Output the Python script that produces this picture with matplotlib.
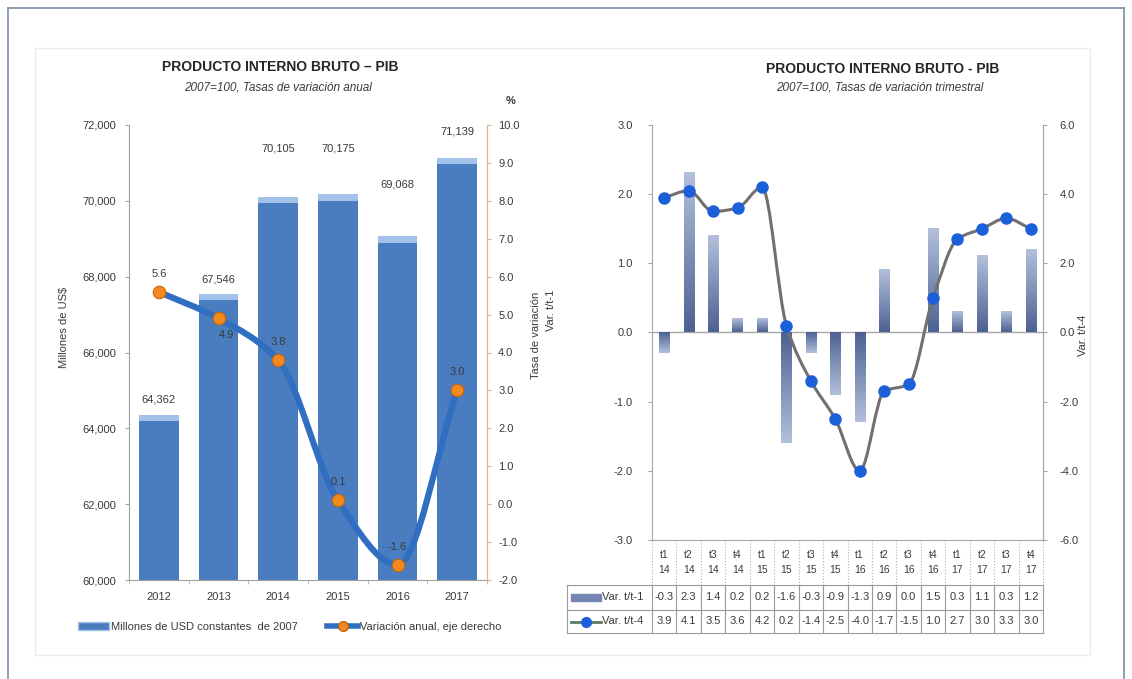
import numpy as np
import matplotlib
matplotlib.use('Agg')
import matplotlib.pyplot as plt
from matplotlib.path import Path
from matplotlib.patches import PathPatch, Patch, Rectangle
from matplotlib.lines import Line2D
from matplotlib.colors import LinearSegmentedColormap

plt.rcParams['font.family'] = ['Liberation Sans Narrow', 'Liberation Sans', 'DejaVu Sans']

# ── Data ──────────────────────────────────────────────
years = ['2012', '2013', '2014', '2015', '2016', '2017']
pib_millones = [64362, 67546, 70105, 70175, 69068, 71139]   # millones USD de 2007
var_anual = [5.6, 4.9, 3.8, 0.1, -1.6, 3.0]                 # %

quarters = ['t1\n14', 't2\n14', 't3\n14', 't4\n14',
            't1\n15', 't2\n15', 't3\n15', 't4\n15',
            't1\n16', 't2\n16', 't3\n16', 't4\n16',
            't1\n17', 't2\n17', 't3\n17', 't4\n17']
var_tt1 = [-0.3, 2.3, 1.4, 0.2, 0.2, -1.6, -0.3, -0.9,
           -1.3, 0.9, 0.0, 1.5, 0.3, 1.1, 0.3, 1.2]
var_tt4 = [3.9, 4.1, 3.5, 3.6, 4.2, 0.2, -1.4, -2.5,
           -4.0, -1.7, -1.5, 1.0, 2.7, 3.0, 3.3, 3.0]

W, H = 1132, 679
def fx(px): return px / W
def fy(py): return 1 - py / H


def smooth_path(xs, ys):
    # monotone cubic (Fritsch-Carlson tangents) drawn as Bezier segments
    xs = np.asarray(xs, float)
    ys = np.asarray(ys, float)
    h = np.diff(xs)
    d = np.diff(ys) / h
    m = np.empty_like(ys)
    m[0], m[-1] = d[0], d[-1]
    for k in range(1, len(ys) - 1):
        if d[k - 1] * d[k] <= 0:
            m[k] = 0.0
        else:
            m[k] = 2.0 / (1.0 / d[k - 1] + 1.0 / d[k])
    verts, codes = [(xs[0], ys[0])], [Path.MOVETO]
    for k in range(len(ys) - 1):
        verts += [(xs[k] + h[k] / 3, ys[k] + m[k] * h[k] / 3),
                  (xs[k + 1] - h[k] / 3, ys[k + 1] - m[k + 1] * h[k] / 3),
                  (xs[k + 1], ys[k + 1])]
        codes += [Path.CURVE4] * 3
    return Path(verts, codes)


fig = plt.figure(figsize=(W / 100, H / 100), dpi=100)
fig.patch.set_facecolor('white')

# outer frame and inner panel
frame_c = '#8796ad'
fig.add_artist(Line2D([fx(8), fx(8)], [0, fy(8)], color=frame_c, lw=1.3))
fig.add_artist(Line2D([fx(8), fx(1124)], [fy(8), fy(8)], color=frame_c, lw=1.3))
fig.add_artist(Line2D([fx(1124), fx(1124)], [0, fy(8)], color=frame_c, lw=1.3))
fig.add_artist(Rectangle((fx(35), fy(655)), fx(1090) - fx(35), (655 - 48) / H,
                         fill=False, ec='#ececec', lw=1))

txt_c = '#3a3a3a'
tick_fs = 8

# ── Left: annual GDP ─────────────────────────────────
ax1 = fig.add_axes([fx(129), fy(580), fx(487) - fx(129), (580 - 125) / H])
x = np.arange(len(years))
bw = 0.66
ax1.bar(x, pib_millones, width=bw, color='#4a7dc0', zorder=2)
ax1.bar(x, 170, bottom=np.array(pib_millones) - 170, width=bw,
        color='#a3c2ea', zorder=2)
ax1.set_xlim(-0.5, len(years) - 0.5)
ax1.set_ylim(60000, 72000)
ax1.set_yticks(range(60000, 72001, 2000))
ax1.set_yticklabels([f'{v:,}' for v in range(60000, 72001, 2000)])
ax1.set_xticks(x, years)
ax1.set_xticks(np.arange(-0.5, len(years)), minor=True)
ax1.tick_params(axis='x', which='major', length=0, pad=9, labelsize=tick_fs, labelcolor=txt_c)
ax1.tick_params(axis='x', which='minor', length=3, color='#b0b0b0')
ax1.tick_params(axis='y', length=3, color='#a0a0a0', labelsize=tick_fs, labelcolor=txt_c, pad=6)
for s in ['top', 'right']:
    ax1.spines[s].set_visible(False)
ax1.spines['left'].set_color('#a0a0a0')
ax1.spines['bottom'].set_color('#a0a0a0')

bar_label_dy = [11, 10, 35, 33, 37, 19]
for xi, v, dy in zip(x, pib_millones, bar_label_dy):
    ax1.annotate(f'{v:,}', (xi, v), xytext=(0, dy), textcoords='offset points',
                 ha='center', va='center', fontsize=tick_fs, color=txt_c, zorder=5)

ax1r = ax1.twinx()
ax1r.set_ylim(-2, 10)
ax1r.set_yticks(range(-2, 11))
ax1r.set_yticklabels([f'{v:.1f}' for v in range(-2, 11)])
ax1r.tick_params(axis='y', length=3, color='#d9b48f', labelsize=tick_fs, labelcolor=txt_c, pad=5)
for s in ['top', 'left', 'bottom']:
    ax1r.spines[s].set_visible(False)
ax1r.spines['right'].set_color('#d9b48f')

ax1r.add_patch(PathPatch(smooth_path(x, var_anual), fill=False, ec='#2f6ec0',
                         lw=4.5, capstyle='round', joinstyle='round', zorder=3))
ax1r.plot(x, var_anual, 'o', ms=9, mfc='#f28a1e', mec='#c8650c', mew=0.8, zorder=4)
below = {1}
for i, (xi, v) in enumerate(zip(x, var_anual)):
    dx, dy = (6, -12) if i in below else (0, 13)
    ax1r.annotate(f'{v:.1f}', (xi, v), xytext=(dx, dy), textcoords='offset points',
                  ha='center', va='center', fontsize=tick_fs, color=txt_c, zorder=5)

fig.text(fx(280), fy(67), 'PRODUCTO INTERNO BRUTO – PIB', ha='center', va='center',
         fontsize=10, fontweight='bold', color='#262626')
fig.text(fx(278), fy(87), '2007=100, Tasas de variación anual', ha='center', va='center',
         fontsize=8.5, style='italic', color=txt_c)
fig.text(fx(64), fy(327), 'Millones de US$', rotation=90, ha='center', va='center',
         fontsize=tick_fs, color=txt_c)
fig.text(fx(536), fy(335), 'Tasa de variación', rotation=90, ha='center', va='center',
         fontsize=tick_fs, color=txt_c)
fig.text(fx(551), fy(310), 'Var. t/t-1', rotation=90, ha='center', va='center',
         fontsize=tick_fs, color=txt_c)
fig.text(fx(511), fy(101), '%', ha='center', va='center', fontsize=tick_fs,
         fontweight='bold', color=txt_c)

ax1.legend(handles=[Patch(facecolor='#4a7dc0', edgecolor='#a3c2ea'),
                    Line2D([], [], color='#2f6ec0', lw=4, marker='o', ms=7,
                           mfc='#f28a1e', mec='#c8650c')],
           labels=['Millones de USD constantes  de 2007', 'Variación anual, eje derecho'],
           ncol=2, loc='center left', bbox_to_anchor=(fx(68), fy(627)),
           bbox_transform=fig.transFigure, frameon=False, fontsize=tick_fs,
           handlelength=2.8, handletextpad=0.2, columnspacing=2.6, labelcolor=txt_c)

# ── Right: quarterly GDP ──────────────────────────────
ax2 = fig.add_axes([fx(652), fy(540), fx(1043) - fx(652), (540 - 125) / H])
xq = np.arange(len(quarters))
qw = 0.42
bar_cmap = LinearSegmentedColormap.from_list('bars', ['#4d6192', '#b3c0dc'])
grad = np.linspace(0, 1, 64).reshape(-1, 1)
for xi, v in zip(xq, var_tt1):
    if v == 0:
        continue
    ax2.imshow(grad, extent=(xi - qw / 2, xi + qw / 2, 0, v), cmap=bar_cmap,
               aspect='auto', origin='lower', zorder=2)
ax2.axhline(0, color='#a6a6a6', lw=1, zorder=1)
ax2.set_yticks(np.arange(-3, 3.1, 1))
ax2.set_yticklabels([f'{v:.1f}' for v in np.arange(-3, 3.1, 1)])
ax2.set_xticks([])
ax2.tick_params(axis='y', length=3, color='#a6a6a6', labelsize=tick_fs, labelcolor=txt_c, pad=11)
ax2.spines['top'].set_visible(False)
for s in ['left', 'right', 'bottom']:
    ax2.spines[s].set_color('#a6a6a6')

ax2r = ax2.twinx()
ax2r.set_ylim(-6, 6)
ax2r.set_yticks(range(-6, 7, 2))
ax2r.set_yticklabels([f'{v:.1f}' for v in range(-6, 7, 2)])
ax2r.tick_params(axis='y', length=3, color='#a6a6a6', labelsize=tick_fs, labelcolor=txt_c, pad=9)
for s in ['top', 'left', 'bottom']:
    ax2r.spines[s].set_visible(False)
ax2r.spines['right'].set_color('#a6a6a6')
ax2r.add_patch(PathPatch(smooth_path(xq, var_tt4), fill=False, ec='#707070',
                         lw=2.2, capstyle='round', joinstyle='round', zorder=3))
ax2r.plot(xq, var_tt4, 'o', ms=8, mfc='#1b5fd9', mec='#1b5fd9', zorder=4)

fig.text(fx(883), fy(69), 'PRODUCTO INTERNO BRUTO - PIB', ha='center', va='center',
         fontsize=10, fontweight='bold', color='#262626')
fig.text(fx(880), fy(87), '2007=100, Tasas de variación trimestral', ha='center', va='center',
         fontsize=8.5, style='italic', color=txt_c)
fig.text(fx(1083), fy(335), 'Var. t/t-4', rotation=90, ha='center', va='center',
         fontsize=tick_fs, color=txt_c)

# data table under the quarterly chart
trans = ax2.get_xaxis_transform()
n = len(quarters)
xl = -0.5 - 85 / 24.44
r0, r1, r2, r3 = 0.0, -45 / 415, -70 / 415, -93 / 415
grid_c = '#9a9a9a'
for yy in (r1, r2, r3):
    ax2.plot([xl, n - 0.5], [yy, yy], color=grid_c, lw=0.8, transform=trans,
             clip_on=False, scalex=False, scaley=False)
for xb in np.arange(-0.5, n):
    ax2.plot([xb, xb], [r1, r3], color=grid_c, lw=0.8, transform=trans,
             clip_on=False, scalex=False, scaley=False)
    ax2.plot([xb, xb], [r0, r1], color='#b0b0b0', lw=0.8, ls=':', transform=trans,
             clip_on=False, scalex=False, scaley=False)
ax2.plot([xl, xl], [r1, r3], color=grid_c, lw=0.8, transform=trans,
         clip_on=False, scalex=False, scaley=False)

for xi, q, a, b in zip(xq, quarters, var_tt1, var_tt4):
    ax2.text(xi, (r0 + r1) / 2, q, transform=trans, ha='center', va='center',
             fontsize=7.5, color=txt_c, linespacing=1.6, clip_on=False)
    ax2.text(xi, (r1 + r2) / 2, f'{a:.1f}', transform=trans, ha='center', va='center',
             fontsize=tick_fs, color=txt_c, clip_on=False)
    ax2.text(xi, (r2 + r3) / 2, f'{b:.1f}', transform=trans, ha='center', va='center',
             fontsize=tick_fs, color=txt_c, clip_on=False)

# legend keys inside the table
ax2.add_patch(Rectangle((xl + 0.15, (r1 + r2) / 2 - 0.008), 1.25, 0.016, transform=trans,
                        color='#7385b0', clip_on=False))
ax2.text(xl + 1.45, (r1 + r2) / 2, 'Var. t/t-1', transform=trans, ha='left', va='center',
         fontsize=tick_fs, color=txt_c, clip_on=False)
ax2.plot([xl + 0.15, xl + 1.4], [(r2 + r3) / 2] * 2, color='#5f7a64', lw=2,
         transform=trans, clip_on=False, scalex=False, scaley=False)
ax2.plot([xl + 0.78], [(r2 + r3) / 2], 'o', ms=7, color='#1b5fd9',
         transform=trans, clip_on=False, scalex=False, scaley=False)
ax2.text(xl + 1.45, (r2 + r3) / 2, 'Var. t/t-4', transform=trans, ha='left', va='center',
         fontsize=tick_fs, color=txt_c, clip_on=False)

ax2.set_xlim(-0.5, n - 0.5)
ax2.set_ylim(-3, 3)
ax2r.set_xlim(-0.5, n - 0.5)

fig.savefig('out.png', dpi=100)
